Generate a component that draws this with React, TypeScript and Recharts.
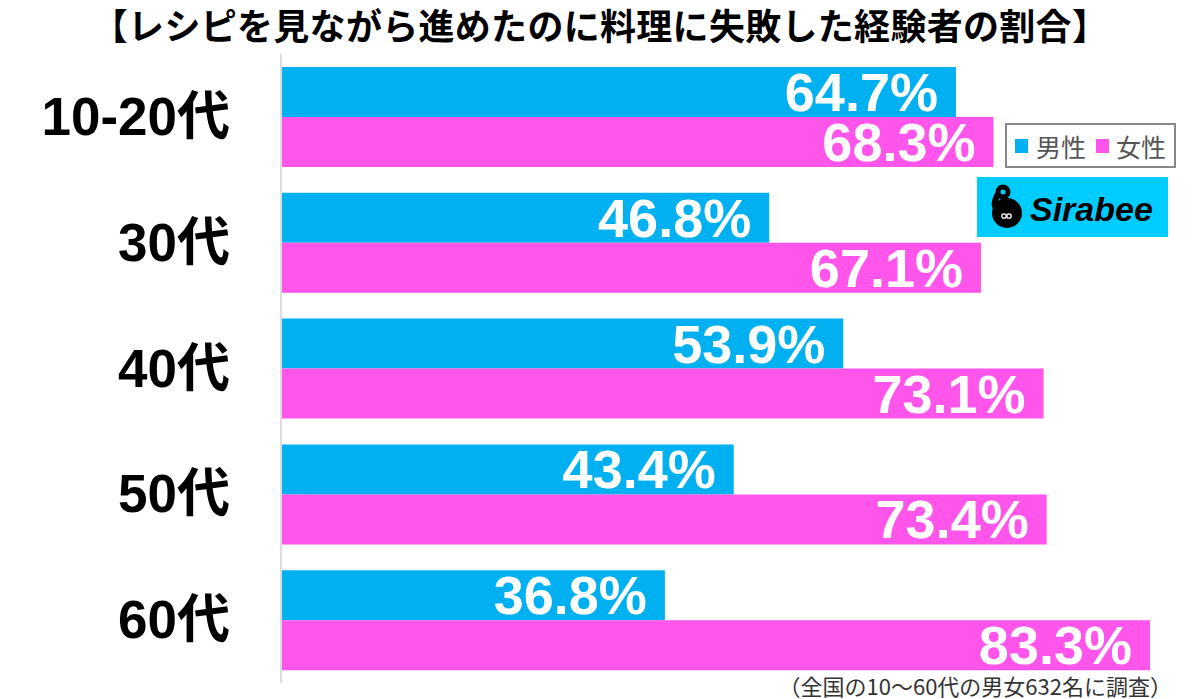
import React from "react";
import { BarChart, Bar, XAxis, YAxis, LabelList } from "recharts";

const categories = ["10-20代", "30代", "40代", "50代", "60代"];
const maleValues = [64.7, 46.8, 53.9, 43.4, 36.8];
const femaleValues = [68.3, 67.1, 73.1, 73.4, 83.3];
const seriesNames = { male: "男性", female: "女性" };

const MALE = "#00B0F0";
const FEMALE = "#FF55EA";

const data = categories.map((c, i) => ({ name: c, male: maleValues[i], female: femaleValues[i] }));

const LegendBox = () => (
    <div style={{ position: "absolute", left: 1005, top: 123, width: 159, height: 41, border: "2px solid #888", display: "flex", alignItems: "center", paddingLeft: 8, boxSizing: "content-box", background: "#fff", fontFamily: "'Noto Sans CJK JP', sans-serif", fontSize: 25, color: "#555", lineHeight: "30px" }}>
        <span style={{ width: 13, height: 14, background: MALE, display: "inline-block", marginRight: 8 }} />
        <span style={{ marginRight: 10 }}>{seriesNames.male}</span>
        <span style={{ width: 13, height: 14, background: FEMALE, display: "inline-block", marginRight: 7 }} />
        <span>{seriesNames.female}</span>
    </div>
);

const CategoryTick = ({ x, y, payload }: any) => (
    <text x={x} y={y} dy={18} textAnchor="end" fontSize={53} fontWeight="bold" fill="#000" fontFamily="'Liberation Sans', 'Noto Sans CJK JP', sans-serif">
        {payload.value}
    </text>
);

const ValueLabel = ({ x, y, width, height, value }: any) => (
    <text x={Number(x) + Number(width) - 18} y={Number(y) + Number(height) / 2} dy={19} textAnchor="end" fontSize={54} fontWeight="bold" fill="#fff" fontFamily="'Liberation Sans', Arial, sans-serif">
        {`${Number(value).toFixed(1)}%`}
    </text>
);

export default function App() {
    return (
        <div style={{ position: "absolute", left: 0, top: 0, width: 1200, height: 699, background: "#fff" }}>
            <div style={{ position: "absolute", top: 6, left: 0, width: 1200, textAlign: "center", fontFamily: "'Noto Sans CJK JP', sans-serif", fontWeight: "bold", fontSize: 36, lineHeight: "36px", letterSpacing: 0.3, color: "#000" }}>
                【レシピを見ながら進めたのに料理に失敗した経験者の割合】
            </div>
            <BarChart width={1200} height={699} data={data} layout="vertical" margin={{ top: 54, right: 1, bottom: 16, left: 0 }} barGap={0}>
                <XAxis type="number" domain={[0, 88]} hide allowDataOverflow />
                <YAxis type="category" dataKey="name" width={281} axisLine={{ stroke: "#dddddd", strokeWidth: 2 }} tickLine={false} tickSize={0} tickMargin={51} tick={<CategoryTick />} />
                <Bar dataKey="male" name={seriesNames.male} fill={MALE} barSize={50} isAnimationActive={false}>
                    <LabelList dataKey="male" content={<ValueLabel />} />
                </Bar>
                <Bar dataKey="female" name={seriesNames.female} fill={FEMALE} barSize={50} isAnimationActive={false}>
                    <LabelList dataKey="female" content={<ValueLabel />} />
                </Bar>
            </BarChart>
            <LegendBox />
            <div style={{ position: "absolute", left: 977, top: 177, width: 191, height: 60, background: "#00CCFF" }}>
                <svg width={191} height={60}>
                    <circle cx={30} cy={36} r={15} fill="#000" />
                    <circle cx={26} cy={15} r={5} fill="none" stroke="#000" strokeWidth={5} />
                    <path d="M21 17 Q15 28 20 32" stroke="#000" strokeWidth={6} fill="none" />
                    <circle cx={27} cy={39} r={2.2} fill="none" stroke="#fff" strokeWidth={1.3} />
                    <circle cx={32} cy={39} r={2.2} fill="none" stroke="#fff" strokeWidth={1.3} />
                    <text x={53} y={44} fontSize={34} fontWeight="bold" fontStyle="italic" fontFamily="'Liberation Sans', Arial, sans-serif" fill="#000">Sirabee</text>
                </svg>
            </div>
            <div style={{ position: "absolute", right: 28, top: 674, fontFamily: "'Noto Sans CJK JP', sans-serif", fontSize: 22, lineHeight: "22px", color: "#333" }}>
                （全国の10〜60代の男女632名に調査）
            </div>
        </div>
    );
}
